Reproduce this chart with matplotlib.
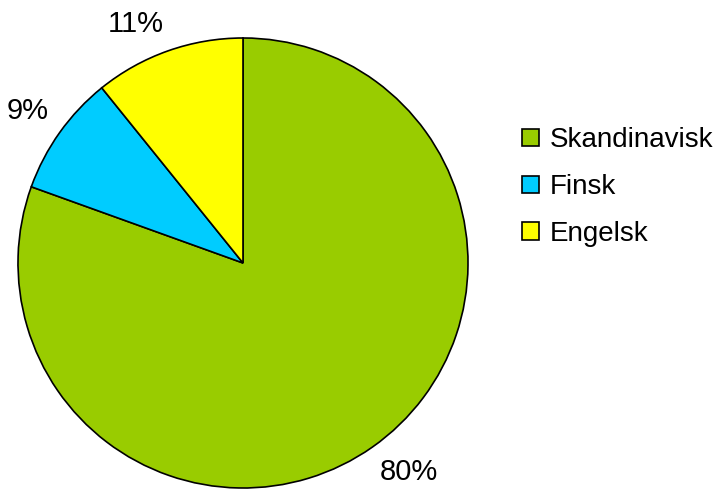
import numpy as np
import matplotlib.pyplot as plt

plt.rcParams['font.family'] = ['Liberation Sans', 'DejaVu Sans']

labels = ['Skandinavisk', 'Finsk', 'Engelsk']
shares = [80.5, 8.7, 10.8]
colors = ['#99CC00', '#00CCFF', '#FFFF00']

fig = plt.figure(figsize=(7.23, 4.9), dpi=100)
ax = fig.add_axes([18 / 723, 2 / 490, 450 / 723, 450 / 490])

wedges, _ = ax.pie(shares, colors=colors, startangle=90, counterclock=False,
                   wedgeprops=dict(edgecolor='black', linewidth=1.2))
ax.set_xlim(-1, 1)
ax.set_ylim(-1, 1)
ax.set_aspect('equal')

# outside-end labels, anchored by the corner nearest the pie
total = sum(shares)
for w, v in zip(wedges, shares):
    mid = np.deg2rad((w.theta1 + w.theta2) / 2)
    c, s = np.cos(mid), np.sin(mid)
    ax.text(1.06 * c, 1.06 * s, '%.0f%%' % (v / total * 100), fontsize=21,
            ha='left' if c > 0 else 'right', va='top' if s < 0 else 'bottom')

fig.legend(wedges, labels, loc='center left', bbox_to_anchor=(0.688, 0.618),
           frameon=False, fontsize=20, handlelength=0.6, handleheight=0.6,
           handletextpad=0.4, labelspacing=0.75)

fig.savefig('out.png', dpi=100)
